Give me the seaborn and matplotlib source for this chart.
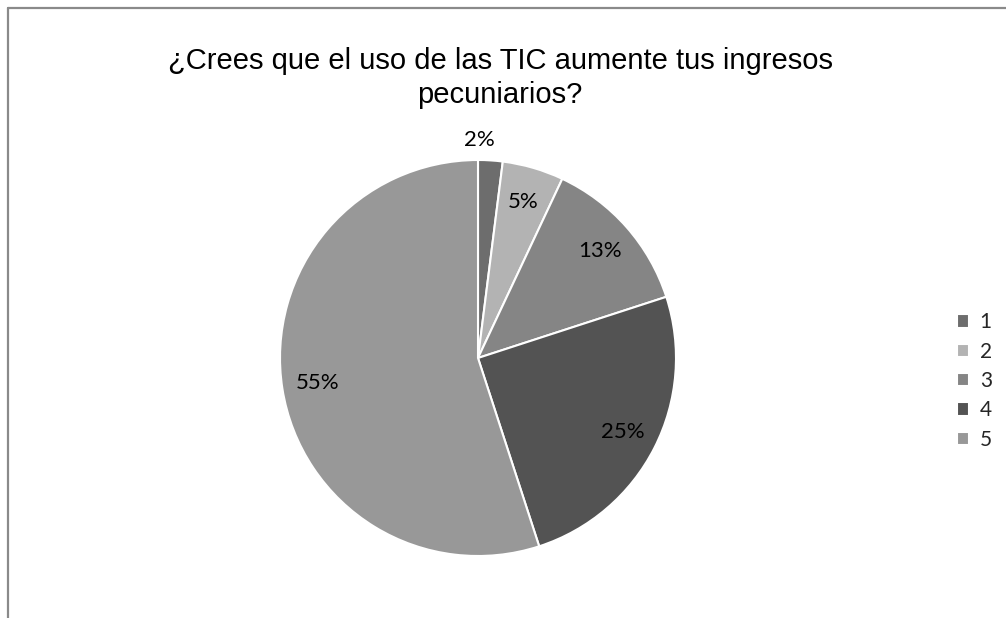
import matplotlib
matplotlib.use('Agg')
import matplotlib.pyplot as plt
import seaborn as sns
import numpy as np
from matplotlib.lines import Line2D

# data
categories = ['1', '2', '3', '4', '5']
percentages = [2, 5, 13, 25, 55]
slice_colors = ['#6d6d6d', '#b3b3b3', '#858585', '#535353', '#989898']
title_text = '¿Crees que el uso de las TIC aumente tus ingresos\npecuniarios?'

sns.set_theme(style='white')
plt.rcParams['font.family'] = ['Liberation Sans', 'DejaVu Sans']

fig = plt.figure(figsize=(10.06, 6.18), dpi=100)
fig.patch.set_facecolor('white')

# pie area, square, centered around (478, 358) px
W, H = 1006, 618
cx, cy, r = 478, 358, 200
ax = fig.add_axes([(cx - r) / W, (H - cy - r) / H, 2 * r / W, 2 * r / H])

wedges, texts, autotexts = ax.pie(
    percentages,
    colors=slice_colors,
    startangle=90,
    counterclock=False,
    radius=0.99,
    autopct='%1.0f%%',
    pctdistance=0.82,
    wedgeprops=dict(edgecolor='white', linewidth=1.5),
    textprops=dict(fontsize=16, color='black', family=['Lato', 'DejaVu Sans']),
)
ax.set_xlim(-1, 1)
ax.set_ylim(-1, 1)
ax.set_aspect('equal')
ax.axis('off')

# smallest slice label sits outside the pie
w0 = wedges[0]
mid = np.deg2rad((w0.theta1 + w0.theta2) / 2)
autotexts[0].set_position((1.09 * np.cos(mid) - 0.06, 1.09 * np.sin(mid)))

# title
fig.text(500 / W, 1 - 78 / H, title_text, ha='center', va='center',
         fontsize=21, linespacing=1.3, color='black')

# legend
leg = fig.legend(wedges, categories, loc='center left',
                 bbox_to_anchor=(938 / W, 1 - 381 / H),
                 bbox_transform=fig.transFigure, frameon=False,
                 handlelength=0.6, handleheight=0.6, handletextpad=0.5,
                 labelspacing=0.45, prop=dict(family=['Lato', 'DejaVu Sans'], size=15))
for h in leg.legend_handles:
    h.set_edgecolor('white')

# chart border (top and left edge)
fig.add_artist(Line2D([8 / W, 1], [1 - 8 / H, 1 - 8 / H], transform=fig.transFigure,
                      color='#8a8a8a', linewidth=1.6))
fig.add_artist(Line2D([8 / W, 8 / W], [0, 1 - 8 / H], transform=fig.transFigure,
                      color='#8a8a8a', linewidth=1.6))

fig.savefig('out.png', dpi=100, facecolor='white')
